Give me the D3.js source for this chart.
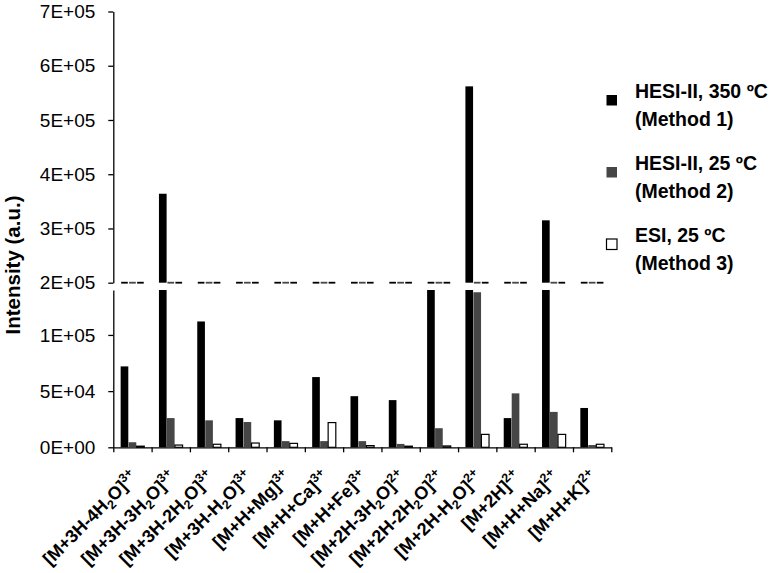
<!DOCTYPE html>
<html>
<head>
<meta charset="utf-8">
<script src="https://cdnjs.cloudflare.com/ajax/libs/d3/7.8.5/d3.min.js"></script>
<style>
	body { margin: 0; background: #fff; }
	text { font-family: "Liberation Sans", Arial, sans-serif; }
</style>
</head>
<body>
<script>

// categories (ion species), charge written after "]"
var categories = ["[M+3H-4H2O]3+", "[M+3H-3H2O]3+", "[M+3H-2H2O]3+", "[M+3H-H2O]3+",
	"[M+H+Mg]3+", "[M+H+Ca]3+", "[M+H+Fe]3+", "[M+2H-3H2O]2+", "[M+2H-2H2O]2+",
	"[M+2H-H2O]2+", "[M+2H]2+", "[M+H+Na]2+", "[M+H+K]2+"];

// series names for the legend
var seriesNames = [["HESI-II, 350 ºC", "(Method 1)"],
	["HESI-II, 25 ºC", "(Method 2)"],
	["ESI, 25 ºC", "(Method 3)"]];

// intensities
var method1 = [72000, 364000, 112000, 26000, 24000, 62500, 45500, 42000, 180000, 562000, 26000, 315000, 35000];
var method2 = [4500, 26000, 24000, 22500, 5500, 5500, 5500, 3000, 17000, 138000, 48000, 31500, 2000];
var method3 = [1000, 2000, 2700, 3800, 3500, 22000, 1500, 1000, 1200, 11500, 2700, 11500, 2700];

// axis ticks for the two parts of the broken axis
var upperTicks = [200000, 300000, 400000, 500000, 600000, 700000];
var lowerTicks = [0, 50000, 100000];
var upperDomain = [200000, 700000];
var lowerDomain = [0, 140000];

window.onload = function() {
	makeChart();
};

// format like excel "0E+00"
function sciFormat(v) {
	if (v === 0) return "0E+00";
	var e = Math.floor(Math.log10(v));
	var m = Math.round(v / Math.pow(10, e));
	return m + "E+" + (e < 10 ? "0" + e : e);
}

function makeChart() {

	var width = 774, height = 573;

	var fills = ["#000000", "#464646", "#ffffff"];
	var strokes = ["#000000", "#464646", "#000000"];

	var data = categories.map(function(c, i) {
		return {name: c, values: [method1[i], method2[i], method3[i]]};
	});

	var svg = d3.select("body")
				.append("svg")
				.attr("width", width)
				.attr("height", height);

	// scales
	var x = d3.scaleBand()
			  .domain(categories)
			  .range([113.3, 611.3])
			  .padding(0);

	var xSub = d3.scaleBand()
				 .domain([0, 1, 2])
				 .range([0, x.bandwidth()])
				 .paddingInner(0.04)
				 .paddingOuter(0.92);

	var yUp = d3.scaleLinear()
				.domain(upperDomain)
				.range([282.7, 11.5]);

	var yLow = d3.scaleLinear()
				 .domain(lowerDomain)
				 .range([447.3, 290]);

	// upper y axis
	svg.append("g")
	   .attr("transform", "translate(113.3,0)")
	   .call(d3.axisLeft(yUp).tickValues(upperTicks).tickFormat(sciFormat)
			.tickSize(5).tickSizeOuter(0).tickPadding(13));

	// lower y axis
	svg.append("g")
	   .attr("transform", "translate(113.3,0)")
	   .call(d3.axisLeft(yLow).tickValues(lowerTicks).tickFormat(sciFormat)
			.tickSize(5).tickSizeOuter(0).tickPadding(13));

	// x axis, ticks on the category boundaries
	var xLin = d3.scaleLinear()
				 .domain([0, categories.length])
				 .range(x.range());

	svg.append("g")
	   .attr("transform", "translate(0,447.3)")
	   .call(d3.axisBottom(xLin).tickValues(d3.range(categories.length + 1))
			.tickFormat("").tickSize(5).tickSizeOuter(0));

	svg.selectAll(".domain, .tick line")
	   .attr("stroke", "#000")
	   .attr("stroke-width", 1.3);

	svg.selectAll(".tick text")
	   .style("font-size", "19px")
	   .attr("fill", "#000");

	var groups = svg.selectAll(".group")
					.data(data)
					.enter()
					.append("g")
					.attr("class", "group")
					.attr("transform", function(d) { return "translate(" + x(d.name) + ",0)"; });

	var bars = function(d) {
		return d.values.map(function(v, s) { return {v: v, s: s}; });
	};

	// lower part, clipped at the top of the lower axis
	groups.selectAll(".low")
		  .data(bars)
		  .enter()
		  .append("rect")
		  .attr("class", "low")
		  .attr("x", function(d) { return xSub(d.s); })
		  .attr("width", xSub.bandwidth())
		  .attr("y", function(d) { return yLow(Math.min(d.v, lowerDomain[1])); })
		  .attr("height", function(d) { return yLow(0) - yLow(Math.min(d.v, lowerDomain[1])); })
		  .attr("fill", function(d) { return fills[d.s]; })
		  .attr("stroke", function(d) { return d.s == 2 ? "#000" : "none"; })
		  .attr("stroke-width", 1.2);

	// upper part, bars above the break
	groups.selectAll(".up")
		  .data(function(d) { return bars(d).filter(function(b) { return b.v > upperDomain[0]; }); })
		  .enter()
		  .append("rect")
		  .attr("class", "up")
		  .attr("x", function(d) { return xSub(d.s); })
		  .attr("width", xSub.bandwidth())
		  .attr("y", function(d) { return yUp(d.v); })
		  .attr("height", function(d) { return yUp(upperDomain[0]) - yUp(d.v); })
		  .attr("fill", function(d) { return fills[d.s]; });

	// flat bars at the break line (values below the upper axis)
	groups.selectAll(".flat")
		  .data(function(d) { return bars(d).filter(function(b) { return b.v <= upperDomain[0]; }); })
		  .enter()
		  .append("line")
		  .attr("class", "flat")
		  .attr("x1", function(d) { return xSub(d.s) + 0.5; })
		  .attr("x2", function(d) { return xSub(d.s) + xSub.bandwidth() - 0.5; })
		  .attr("y1", yUp(upperDomain[0]))
		  .attr("y2", yUp(upperDomain[0]))
		  .attr("stroke", function(d) { return strokes[d.s]; })
		  .attr("stroke-width", 1.8);

	// category labels with sub- and superscripts
	var labels = svg.selectAll(".xlabel")
					.data(categories)
					.enter()
					.append("text")
					.attr("class", "xlabel")
					.attr("transform", function(d) {
						return "translate(" + (x(d) + x.bandwidth() / 2 + 6) + ",478) rotate(-45)";
					})
					.attr("text-anchor", "end")
					.style("font-size", "18px")
					.style("font-weight", "bold");

	labels.each(function(d) {
		var t = d3.select(this);
		var close = d.indexOf("]");
		var body = d.substring(0, close + 1);
		var charge = d.substring(close + 1);
		var parts = body.split("H2O");
		parts.forEach(function(p, i) {
			if (i > 0) {
				t.append("tspan").attr("dy", 4).style("font-size", "12.5px").text("2");
				t.append("tspan").attr("dy", -4).text("O" + p);
			} else {
				t.append("tspan").text(p + (parts.length > 1 ? "H" : ""));
			}
		});
		t.append("tspan").attr("dy", -7).style("font-size", "12.5px").text(charge);
	});

	// y axis title
	svg.append("text")
	   .attr("transform", "translate(20,265) rotate(-90)")
	   .attr("text-anchor", "middle")
	   .style("font-size", "20.5px")
	   .style("font-weight", "bold")
	   .text("Intensity (a.u.)");

	// legend
	var legend = svg.selectAll(".legend")
					.data(seriesNames)
					.enter()
					.append("g")
					.attr("class", "legend")
					.attr("transform", function(d, i) { return "translate(0," + (i * 72) + ")"; });

	legend.append("rect")
		  .attr("x", 606.5)
		  .attr("y", 95)
		  .attr("width", 10.5)
		  .attr("height", 10.5)
		  .attr("fill", function(d, i) { return fills[i]; })
		  .attr("stroke", function(d, i) { return i == 2 ? "#000" : "none"; })
		  .attr("stroke-width", 1.2);

	legend.selectAll(".ltext")
		  .data(function(d) { return d; })
		  .enter()
		  .append("text")
		  .attr("class", "ltext")
		  .attr("x", 635)
		  .attr("y", function(d, i) { return 98 + i * 28; })
		  .style("font-size", "19.5px")
		  .style("font-weight", "bold")
		  .text(function(d) { return d; });
};

</script>
</body>
</html>
